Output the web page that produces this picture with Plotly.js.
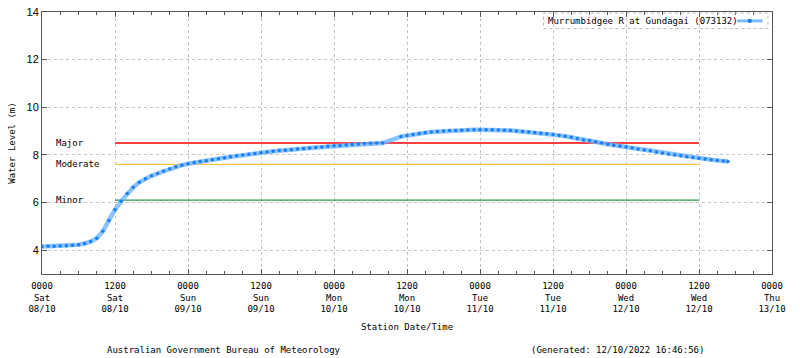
<!DOCTYPE html>
<html>
<head>
<meta charset="utf-8">
<script src="https://cdn.plot.ly/plotly-3.0.1.min.js"></script>
<style>html,body{margin:0;padding:0;background:#fff;}#chart{width:800px;height:358px;}</style>
</head>
<body>
<div id="chart"></div>
<script>
// Hours since 0000 Sat 08/10/2022
const hours = [0,1,2,3,4,5,6,7,8,9,10,11,12,13,14,15,16,17,18,19,20,21,22,23,24,25,26,27,28,29,30,31,32,33,34,35,36,37,38,39,40,41,42,43,44,45,46,47,48,49,50,51,52,53,54,55,56,
  59,60,61,62,63,64,65,66,67,68,69,70,71,72,73,74,75,76,77,78,79,80,81,82,83,84,85,86,87,88,89,90,91,92,93,94,95,96,97,98,99,100,101,102,103,104,105,106,107,108,109,110,111,112,112.75];
const waterLevel = [4.15,4.16,4.17,4.18,4.19,4.21,4.23,4.28,4.36,4.5,4.8,5.25,5.7,6.05,6.38,6.64,6.85,7.0,7.12,7.22,7.32,7.42,7.5,7.57,7.63,7.68,7.72,7.76,7.8,7.84,7.88,7.92,7.96,8.0,8.03,8.06,8.09,8.12,8.15,8.18,8.2,8.22,8.25,8.27,8.29,8.31,8.33,8.36,8.38,8.4,8.42,8.44,8.46,8.48,8.49,8.5,8.5,
  8.77,8.82,8.86,8.9,8.93,8.96,8.98,9.0,9.02,9.03,9.04,9.05,9.06,9.06,9.06,9.06,9.05,9.04,9.02,9.0,8.98,8.96,8.94,8.91,8.89,8.86,8.82,8.78,8.74,8.69,8.64,8.6,8.55,8.5,8.45,8.41,8.37,8.33,8.29,8.25,8.21,8.17,8.12,8.08,8.04,8.0,7.96,7.92,7.89,7.86,7.83,7.8,7.77,7.74,7.72];
const seriesName = 'Murrumbidgee R at Gundagai (073132)';

const thresholdNames = ['Major','Moderate','Minor'];
const thresholdLevels = [8.5, 7.6, 6.1];
const thresholdColors = ['#ff0000','#ffc446','#2e9e47'];
const thresholdStart = 12, thresholdEnd = 108, thresholdLabelX = 2;

const tickHours = [0,12,24,36,48,60,72,84,96,108,120];
const tickTimes = ['0000','1200','0000','1200','0000','1200','0000','1200','0000','1200','0000'];
const tickDays  = ['Sat','Sat','Sun','Sun','Mon','Mon','Tue','Tue','Wed','Wed','Thu'];
const tickDates = ['08/10','08/10','09/10','09/10','10/10','10/10','11/10','11/10','12/10','12/10','13/10'];
const tickText = tickTimes.map((t,i)=>t+'<br>'+tickDays[i]+'<br>'+tickDates[i]);

const mono = 'DejaVu Sans Mono, monospace';

const traces = [];
thresholdLevels.forEach((lv,i)=>{
  traces.push({x:[thresholdStart,thresholdEnd], y:[lv,lv], mode:'lines', line:{color:thresholdColors[i], width:1.3}, showlegend:false, hoverinfo:'skip'});
});
traces.push({x:hours, y:waterLevel, name:seriesName, mode:'lines+markers',
  line:{color:'rgba(110,180,255,0.8)', width:4.5},
  marker:{color:'#1a7ff5', size:3.5, symbol:'circle'}, showlegend:false});

const annotations = thresholdNames.map((n,i)=>({x:thresholdLabelX, y:thresholdLevels[i], xref:'x', yref:'y', text:n, showarrow:false, xanchor:'left', yanchor:'middle', font:{family:mono, size:9, color:'#000'}}));
annotations.push({x:0.249, y:-0.29, xref:'paper', yref:'paper', text:'Australian Government Bureau of Meteorology', showarrow:false, xanchor:'center', yanchor:'middle', font:{family:mono, size:9, color:'#000'}});
annotations.push({x:0.789, y:-0.29, xref:'paper', yref:'paper', text:'(Generated: 12/10/2022 16:46:56)', showarrow:false, xanchor:'center', yanchor:'middle', font:{family:mono, size:9, color:'#000'}});
annotations.push({x:0.690, y:0.966, xref:'paper', yref:'paper', text:seriesName, showarrow:false, xanchor:'left', yanchor:'middle', font:{family:mono, size:9, color:'#000'}});

const shapes = [
  {type:'rect', xref:'paper', yref:'paper', x0:0.687, x1:0.9945, y0:0.937, y1:0.996, line:{color:'#bbbbbb', width:1, dash:'dot'}},
  {type:'line', xref:'paper', yref:'paper', x0:0.952, x1:0.987, y0:0.966, y1:0.966, line:{color:'rgba(110,180,255,0.9)', width:3}},
  {type:'circle', xref:'paper', yref:'paper', x0:0.9665, x1:0.9725, y0:0.958, y1:0.974, fillcolor:'#1a7ff5', line:{width:0}}
];

const layout = {
  width:800, height:358,
  margin:{l:42, r:28, t:12, b:84},
  paper_bgcolor:'#fff', plot_bgcolor:'#fff',
  showlegend:false,
  xaxis:{range:[0,120], tickmode:'array', tickvals:tickHours, ticktext:tickText,
    ticks:'inside', ticklen:5, tickcolor:'#555', showline:true, linecolor:'#555', linewidth:1, mirror:'ticks',
    showgrid:true, gridcolor:'#c4c4c4', griddash:'dot', gridwidth:1, zeroline:false,
    tickfont:{family:mono, size:9, color:'#000'}, ticklabelstandoff:3,
    minor:{tickmode:'linear', tick0:0, dtick:3, ticks:'inside', ticklen:3, tickcolor:'#555', showgrid:false},
    title:{text:'Station Date/Time', font:{family:mono, size:9, color:'#000'}, standoff:10}, automargin:false},
  yaxis:{range:[3,14], tickmode:'linear', tick0:4, dtick:2,
    ticks:'inside', ticklen:5, tickcolor:'#555', showline:true, linecolor:'#555', linewidth:1, mirror:'ticks',
    showgrid:true, gridcolor:'#c4c4c4', griddash:'dot', gridwidth:1, zeroline:false,
    tickfont:{family:'Liberation Sans, Arial, sans-serif', size:11, color:'#000'},
    title:{text:'Water Level (m)', font:{family:mono, size:9, color:'#000'}, standoff:9}, automargin:false},
  annotations:annotations,
  shapes:shapes
};

Plotly.newPlot('chart', traces, layout, {staticPlot:true, displayModeBar:false});
</script>
</body>
</html>
